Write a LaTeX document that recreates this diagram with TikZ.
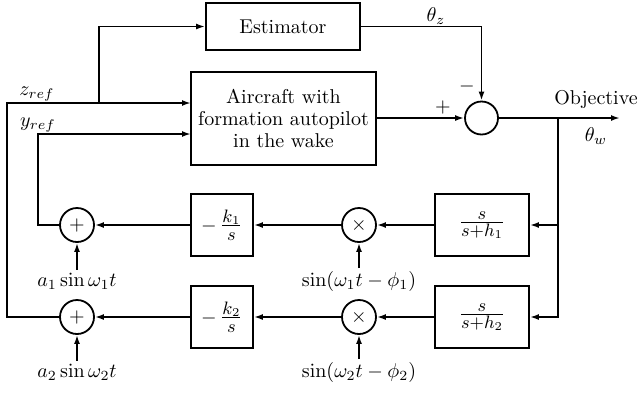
\documentclass[tikz,border=0pt]{standalone}
\usetikzlibrary{arrows.meta,calc}
\newcommand{\bigfr}[1]{{\fontsize{13}{15}\selectfont$#1$}}
\begin{document}
\begin{tikzpicture}[x=0.5pt,y=-0.5pt,line width=0.9pt,
  >={Latex[length=4.5pt,width=3pt]},
  blockbox/.style={draw,rectangle,inner sep=0pt,align=center},
  junction/.style={draw,circle,inner sep=0pt,minimum size=17pt},
  lbl/.style={inner sep=1pt}]
\useasboundingbox (0,0) rectangle (637,392);
% blocks
\node[blockbox,minimum width=77pt,minimum height=23.5pt] (est) at (283,26.5) {Estimator};
\node[blockbox,minimum width=92.5pt,minimum height=46.5pt,font=\linespread{0.92}\selectfont] (air) at (283.5,118.5) {Aircraft with\\formation autopilot\\in the wake};
\node[blockbox,minimum width=47pt,minimum height=31pt] (f1) at (482,225) {\bigfr{\frac{s}{s+h_1}}};
\node[blockbox,minimum width=47pt,minimum height=31pt] (f2) at (482,317) {\bigfr{\frac{s}{s+h_2}}};
\node[blockbox,minimum width=31pt,minimum height=31pt] (i1) at (222,225) {$-\mkern3mu$\bigfr{\frac{k_1}{s}}};
\node[blockbox,minimum width=31pt,minimum height=31pt] (i2) at (222,317) {$-\mkern3mu$\bigfr{\frac{k_2}{s}}};
% junctions
\node[junction,minimum size=16.5pt] (sum) at (481.5,118) {};
\node[junction] (m1) at (359,225) {$\times$};
\node[junction] (m2) at (359,317) {$\times$};
\node[junction] (a1) at (77,225) {$+$};
\node[junction] (a2) at (77,317) {$+$};
% input labels
\node[lbl] (ia1) at (77,281) {$a_1\sin\omega_1 t$};
\node[lbl] (ia2) at (77,372) {$a_2\sin\omega_2 t$};
\node[lbl] (im1) at (359,281) {$\sin(\omega_1 t-\phi_1)$};
\node[lbl] (im2) at (359,372) {$\sin(\omega_2 t-\phi_2)$};
% coordinates
\coordinate (zl) at (7,103);
\coordinate (zb) at (99,103);
\coordinate (zin) at (191,103);
\coordinate (yin) at (191,134);
\coordinate (yl) at (38,134);
\coordinate (out) at (620,118);
\coordinate (br) at (558,118);
% connectors
\draw[->] (a2.west) -- (zl |- a2.west) -- (zl) -- (zin);
\draw[->] (zb) -- (zb |- est.west) -- (est.west);
\draw[->] (a1.west) -- (yl |- a1.west) -- (yl) -- (yin);
\draw[->] (est.east) -- (est.east -| sum.north) -- (sum.north);
\draw[->] (air.east |- sum.west) -- (sum.west);
\draw[->] (sum.east) -- (out);
\draw[->] (br) -- (br |- f2.east) -- (f2.east);
\draw[->] (br |- f1.east) -- (f1.east);
\draw[->] (f1.west) -- (m1.east);
\draw[->] (f2.west) -- (m2.east);
\draw[->] (m1.west) -- (i1.east);
\draw[->] (m2.west) -- (i2.east);
\draw[->] (i1.west) -- (a1.east);
\draw[->] (i2.west) -- (a2.east);
\draw[->] (ia1.north) -- (a1.south);
\draw[->] (ia2.north) -- (a2.south);
\draw[->] (im1.north) -- (m1.south);
\draw[->] (im2.north) -- (m2.south);
% text labels
\node[lbl] (tz) at (37,94) {$z_{ref}$};
\node[lbl] (ty) at (38,125) {$y_{ref}$};
\node[lbl] (thz) at (436,16) {$\theta_z$};
\node[lbl] (minus) at (467,86) {$-$};
\node[lbl] (plus) at (443,107) {$+$};
\node[lbl] (obj) at (596,99) {Objective};
\node[lbl] (thw) at (596,136) {$\theta_w$};
\end{tikzpicture}
\end{document}
